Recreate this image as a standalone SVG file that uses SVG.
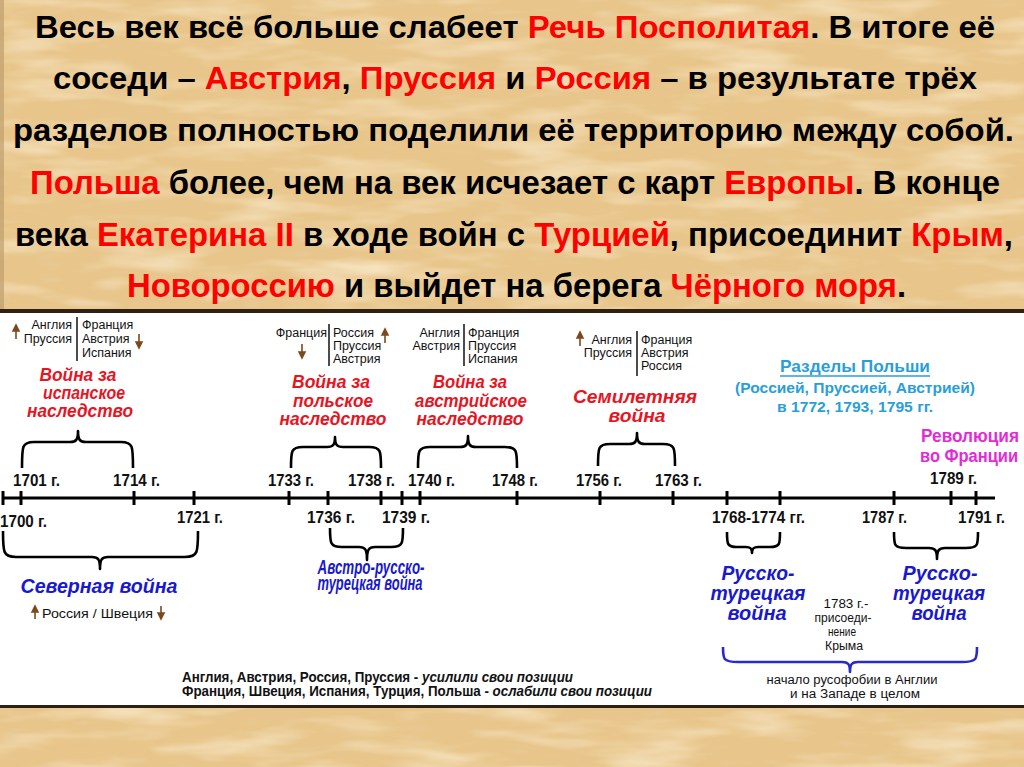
<svg xmlns="http://www.w3.org/2000/svg" width="1024" height="767" viewBox="0 0 1024 767">
<defs>
<filter id="paper" x="0" y="0" width="100%" height="100%">
<feTurbulence type="fractalNoise" baseFrequency="0.01 0.05" numOctaves="3" seed="7"/>
<feColorMatrix type="matrix" values="0 0 0 0 0.98  0 0 0 0 0.88  0 0 0 0 0.70  1.5 0 0 0 -0.7"/>
</filter>
<filter id="paper2" x="0" y="0" width="100%" height="100%">
<feTurbulence type="fractalNoise" baseFrequency="0.03 0.12" numOctaves="2" seed="11"/>
<feColorMatrix type="matrix" values="0 0 0 0 0.80  0 0 0 0 0.64  0 0 0 0 0.42  1.2 0 0 0 -0.75"/>
</filter>
<style>
.hb{font-family:"Liberation Sans",Arial,sans-serif;font-weight:bold;font-size:31px;fill:#000}
.hn{font-family:"Liberation Sans Narrow","Liberation Sans",Arial,sans-serif;font-weight:bold;font-size:33px;fill:#000}
.r{fill:#f00}
.cn{font-family:"Liberation Sans",Arial,sans-serif;font-size:12.5px;fill:#111}
.yr{font-family:"Liberation Sans Narrow","Liberation Sans",Arial,sans-serif;font-weight:bold;font-size:17px;fill:#111}
.war{font-family:"Liberation Sans",Arial,sans-serif;font-weight:bold;font-style:italic;font-size:18px;fill:#e8141f;text-anchor:middle}
.bw{font-family:"Liberation Sans",Arial,sans-serif;font-weight:bold;font-style:italic;font-size:20px;fill:#1818d0;text-anchor:middle}
.sm{font-family:"Liberation Sans Narrow","Liberation Sans",Arial,sans-serif;font-size:12.5px;fill:#111;text-anchor:middle}
.bt{font-family:"Liberation Sans Narrow","Liberation Sans",Arial,sans-serif;font-weight:bold;font-size:14px;fill:#111}
.cy{font-family:"Liberation Sans",Arial,sans-serif;font-weight:bold;fill:#2a9ed8;text-anchor:middle}
.mg{font-family:"Liberation Sans",Arial,sans-serif;font-weight:bold;font-size:18px;fill:#e42ad6}
.brace{fill:none;stroke:#000;stroke-width:2.6;stroke-linejoin:round}
.bbrace{fill:none;stroke:#2a2ac8;stroke-width:2.6;stroke-linejoin:round}
.tick{stroke:#000;stroke-width:3}
.sep{stroke:#111;stroke-width:1.5}
.arr{stroke:#7a4a1e;stroke-width:1.6;fill:#7a4a1e}
</style>
</defs>

<!-- background -->
<rect x="0" y="0" width="1024" height="767" fill="#e8c68b"/>
<rect x="0" y="0" width="1024" height="767" filter="url(#paper)"/>
<rect x="0" y="0" width="1024" height="767" filter="url(#paper2)"/>
<rect x="0" y="0" width="4" height="310" fill="#b89868" opacity="0.6"/>
<rect x="0" y="309" width="1024" height="4" fill="#2e2012"/>
<rect x="0" y="313" width="1024" height="392" fill="#fff"/>
<rect x="0" y="705" width="1024" height="3" fill="#2e2012"/>

<!-- header text -->
<g id="header">
<text class="hb" x="35" y="38" textLength="960" lengthAdjust="spacingAndGlyphs">Весь век всё больше слабеет <tspan class="r">Речь Посполитая</tspan>. В итоге её</text>
<text class="hb" x="53" y="89" textLength="924" lengthAdjust="spacingAndGlyphs">соседи – <tspan class="r">Австрия</tspan>, <tspan class="r">Пруссия</tspan> и <tspan class="r">Россия</tspan> – в результате трёх</text>
<text class="hb" x="13" y="141" textLength="1001" lengthAdjust="spacingAndGlyphs">разделов полностью поделили её территорию между собой.</text>
<text class="hn" x="30" y="194" textLength="970" lengthAdjust="spacingAndGlyphs"><tspan class="r">Польша</tspan> более, чем на век исчезает с карт <tspan class="r">Европы</tspan>. В конце</text>
<text class="hn" x="15" y="246" textLength="998" lengthAdjust="spacingAndGlyphs">века <tspan class="r">Екатерина II</tspan> в ходе войн с <tspan class="r">Турцией</tspan>, присоединит <tspan class="r">Крым</tspan>,</text>
<text class="hn" x="127" y="297" textLength="779" lengthAdjust="spacingAndGlyphs"><tspan class="r">Новороссию</tspan> и выйдет на берега <tspan class="r">Чёрного моря</tspan>.</text>
</g>

<!-- connectors: axis, ticks, braces -->
<g id="connectors">
<line x1="2" y1="498" x2="995" y2="498" stroke="#000" stroke-width="3"/>
<g class="tick">
<line x1="3" y1="491" x2="3" y2="505"/>
<line x1="21" y1="491" x2="21" y2="505"/>
<line x1="134" y1="491" x2="134" y2="505"/>
<line x1="194" y1="491" x2="194" y2="505"/>
<line x1="289" y1="491" x2="289" y2="505"/>
<line x1="328" y1="491" x2="328" y2="505"/>
<line x1="381" y1="491" x2="381" y2="505"/>
<line x1="402" y1="491" x2="402" y2="505"/>
<line x1="420" y1="491" x2="420" y2="505"/>
<line x1="517" y1="491" x2="517" y2="505"/>
<line x1="600" y1="491" x2="600" y2="505"/>
<line x1="673" y1="491" x2="673" y2="505"/>
<line x1="727" y1="491" x2="727" y2="505"/>
<line x1="780" y1="491" x2="780" y2="505"/>
<line x1="894" y1="491" x2="894" y2="505"/>
<line x1="951" y1="491" x2="951" y2="505"/>
<line x1="976" y1="491" x2="976" y2="505"/>
</g>
<!-- braces above axis (apex up) -->
<path class="brace" d="M22,468 C22,446 22,442 34,442 L70,442 C76,442 78,440 78,431 C78,440 80,442 86,442 L121,442 C133,442 133,446 133,468"/>
<path class="brace" d="M291,468 C291,451 291,447 303,447 L327,447 C333,447 335,445 335,437 C335,445 337,447 343,447 L369,447 C381,447 381,451 381,468"/>
<path class="brace" d="M418,468 C418,451 418,447 430,447 L460,447 C466,447 468,445 468,436 C468,445 470,447 476,447 L505,447 C517,447 517,451 517,468"/>
<path class="brace" d="M598,466 C598,448 598,444 610,444 L629,444 C635,444 637,442 637,433 C637,442 639,444 645,444 L663,444 C675,444 675,448 675,466"/>
<!-- braces below axis (apex down) -->
<path class="brace" d="M3,531 C3,552 3,557 16,557 L92,557 C98,557 100,559 100,569 C100,559 102,557 108,557 L185,557 C198,557 198,552 198,531"/>
<path class="brace" d="M330,528 C330,543 330,547 342,547 L359,547 C365,547 367,549 367,560 C367,549 369,547 375,547 L391,547 C403,547 403,543 403,528"/>
<path class="brace" d="M727,532 C727,544 727,547 737,547 L746,547 C750,547 752,548 752,553 C752,548 754,547 758,547 L770,547 C780,547 780,544 780,532"/>
<path class="brace" d="M894,532 C894,545 894,548 906,548 L929,548 C935,548 937,550 937,559 C937,550 939,548 945,548 L966,548 C978,548 978,545 978,532"/>
<path class="bbrace" d="M723,647 C723,659 723,662 738,662 L842,662 C848,662 850,664 850,672 C850,664 852,662 858,662 L962,662 C977,662 977,659 977,647"/>
</g>

<!-- year labels -->
<g id="years">
<text class="yr" x="13" y="486" textLength="47" lengthAdjust="spacingAndGlyphs">1701 г.</text>
<text class="yr" x="113" y="486" textLength="47" lengthAdjust="spacingAndGlyphs">1714 г.</text>
<text class="yr" x="268" y="486" textLength="46" lengthAdjust="spacingAndGlyphs">1733 г.</text>
<text class="yr" x="348" y="486" textLength="47" lengthAdjust="spacingAndGlyphs">1738 г.</text>
<text class="yr" x="408" y="486" textLength="47" lengthAdjust="spacingAndGlyphs">1740 г.</text>
<text class="yr" x="492" y="486" textLength="46" lengthAdjust="spacingAndGlyphs">1748 г.</text>
<text class="yr" x="576" y="486" textLength="46" lengthAdjust="spacingAndGlyphs">1756 г.</text>
<text class="yr" x="655" y="486" textLength="47" lengthAdjust="spacingAndGlyphs">1763 г.</text>
<text class="yr" x="930" y="484" textLength="47" lengthAdjust="spacingAndGlyphs">1789 г.</text>
<text class="yr" x="0" y="527" textLength="47" lengthAdjust="spacingAndGlyphs">1700 г.</text>
<text class="yr" x="177" y="523" textLength="46" lengthAdjust="spacingAndGlyphs">1721 г.</text>
<text class="yr" x="307" y="523" textLength="48" lengthAdjust="spacingAndGlyphs">1736 г.</text>
<text class="yr" x="382" y="523" textLength="48" lengthAdjust="spacingAndGlyphs">1739 г.</text>
<text class="yr" x="712" y="523" textLength="93" lengthAdjust="spacingAndGlyphs">1768-1774 гг.</text>
<text class="yr" x="862" y="523" textLength="45" lengthAdjust="spacingAndGlyphs">1787 г.</text>
<text class="yr" x="958" y="523" textLength="47" lengthAdjust="spacingAndGlyphs">1791 г.</text>
</g>

<!-- Spanish succession -->
<g id="spanish-war">
<path class="arr" d="M16,339 L16,330"/><path class="arr" d="M13,331 L16,325 L19,331 Z"/>
<text class="cn" x="72" y="329" text-anchor="end">Англия</text>
<text class="cn" x="72" y="343" text-anchor="end">Пруссия</text>
<line class="sep" x1="77" y1="317" x2="77" y2="361"/>
<text class="cn" x="82" y="329">Франция</text>
<text class="cn" x="82" y="343">Австрия</text>
<text class="cn" x="82" y="357">Испания</text>
<path class="arr" d="M139,334 L139,343"/><path class="arr" d="M136,342 L139,348 L142,342 Z"/>
<text class="war" x="78" y="381" textLength="77" lengthAdjust="spacingAndGlyphs">Война за</text>
<text class="war" x="84" y="399" textLength="82" lengthAdjust="spacingAndGlyphs">испанское</text>
<text class="war" x="80" y="417" textLength="106" lengthAdjust="spacingAndGlyphs">наследство</text>
</g>

<!-- Polish succession -->
<g id="polish-war">
<text class="cn" x="327" y="337" text-anchor="end">Франция</text>
<path class="arr" d="M302,344 L302,353"/><path class="arr" d="M299,352 L302,358 L305,352 Z"/>
<line class="sep" x1="329" y1="324" x2="329" y2="366"/>
<text class="cn" x="333" y="337">Россия</text>
<text class="cn" x="333" y="350">Пруссия</text>
<text class="cn" x="333" y="363">Австрия</text>
<path class="arr" d="M385,343 L385,334"/><path class="arr" d="M382,335 L385,329 L388,335 Z"/>
<text class="war" x="331" y="388" textLength="78" lengthAdjust="spacingAndGlyphs">Война за</text>
<text class="war" x="333" y="407" textLength="80" lengthAdjust="spacingAndGlyphs">польское</text>
<text class="war" x="333" y="425" textLength="107" lengthAdjust="spacingAndGlyphs">наследство</text>
</g>

<!-- Austrian succession -->
<g id="austrian-war">
<text class="cn" x="460" y="337" text-anchor="end">Англия</text>
<text class="cn" x="460" y="350" text-anchor="end">Австрия</text>
<line class="sep" x1="464" y1="324" x2="464" y2="366"/>
<text class="cn" x="468" y="337">Франция</text>
<text class="cn" x="468" y="350">Пруссия</text>
<text class="cn" x="468" y="363">Испания</text>
<text class="war" x="470" y="388" textLength="74" lengthAdjust="spacingAndGlyphs">Война за</text>
<text class="war" x="471" y="407" textLength="112" lengthAdjust="spacingAndGlyphs">австрийское</text>
<text class="war" x="470" y="425" textLength="107" lengthAdjust="spacingAndGlyphs">наследство</text>
</g>

<!-- Seven Years War -->
<g id="seven-years-war">
<path class="arr" d="M580,346 L580,337"/><path class="arr" d="M577,338 L580,332 L583,338 Z"/>
<text class="cn" x="632" y="344" text-anchor="end">Англия</text>
<text class="cn" x="632" y="357" text-anchor="end">Пруссия</text>
<line class="sep" x1="637" y1="331" x2="637" y2="376"/>
<text class="cn" x="641" y="344">Франция</text>
<text class="cn" x="641" y="357">Австрия</text>
<text class="cn" x="641" y="370">Россия</text>
<text class="war" x="635" y="403" textLength="124" lengthAdjust="spacingAndGlyphs">Семилетняя</text>
<text class="war" x="637" y="422" textLength="57" lengthAdjust="spacingAndGlyphs">война</text>
</g>

<!-- Partitions of Poland -->
<g id="partitions">
<text class="cy" x="855" y="372" font-size="17" textLength="150" lengthAdjust="spacingAndGlyphs">Разделы Польши</text>
<line x1="780" y1="376" x2="930" y2="376" stroke="#2a9ed8" stroke-width="1.5"/>
<text class="cy" x="855" y="393" font-size="14.5" textLength="240" lengthAdjust="spacingAndGlyphs">(Россией, Пруссией, Австрией)</text>
<text class="cy" x="855" y="412" font-size="14.5" textLength="156" lengthAdjust="spacingAndGlyphs">в 1772, 1793, 1795 гг.</text>
</g>

<!-- French Revolution -->
<g id="revolution">
<text class="mg" x="921" y="442" textLength="98" lengthAdjust="spacingAndGlyphs">Революция</text>
<text class="mg" x="920" y="462" textLength="98" lengthAdjust="spacingAndGlyphs">во Франции</text>
</g>

<!-- Great Northern War -->
<g id="northern-war">
<text class="bw" x="99" y="593" textLength="157" lengthAdjust="spacingAndGlyphs">Северная война</text>
<path class="arr" d="M35,619 L35,611"/><path class="arr" d="M32,612 L35,606 L38,612 Z"/>
<text class="cn" x="42" y="618" font-size="13" textLength="111" lengthAdjust="spacingAndGlyphs">Россия / Швеция</text>
<path class="arr" d="M161,606 L161,614"/><path class="arr" d="M158,613 L161,619 L164,613 Z"/>
</g>

<!-- Austro-Russian-Turkish War -->
<g id="austro-russo-turkish-war">
<text class="bw" x="371" y="574" font-size="12" fill="#2a2ad0" textLength="107" lengthAdjust="spacingAndGlyphs">Австро-русско-</text>
<text class="bw" x="370" y="590" font-size="12" fill="#2a2ad0" textLength="105" lengthAdjust="spacingAndGlyphs">турецкая война</text>
</g>

<!-- Russo-Turkish War 1768-1774 -->
<g id="russo-turkish-war-1">
<text class="bw" x="758" y="580" textLength="73" lengthAdjust="spacingAndGlyphs">Русско-</text>
<text class="bw" x="758" y="600" textLength="95" lengthAdjust="spacingAndGlyphs">турецкая</text>
<text class="bw" x="757" y="620" textLength="59" lengthAdjust="spacingAndGlyphs">война</text>
</g>

<!-- Crimea 1783 -->
<g id="crimea">
<text class="sm" x="846" y="608" textLength="45" lengthAdjust="spacingAndGlyphs">1783 г.-</text>
<text class="sm" x="843" y="622" fill="#2a2ab0" textLength="57" lengthAdjust="spacingAndGlyphs">присоеди-</text>
<text class="sm" x="842" y="636" fill="#2a2ab0" textLength="28" lengthAdjust="spacingAndGlyphs">нение</text>
<text class="sm" x="844" y="650" fill="#2a2ab0" textLength="38" lengthAdjust="spacingAndGlyphs">Крыма</text>
</g>

<!-- Russo-Turkish War 1787-1791 -->
<g id="russo-turkish-war-2">
<text class="bw" x="940" y="580" textLength="75" lengthAdjust="spacingAndGlyphs">Русско-</text>
<text class="bw" x="939" y="600" textLength="92" lengthAdjust="spacingAndGlyphs">турецкая</text>
<text class="bw" x="939" y="620" textLength="55" lengthAdjust="spacingAndGlyphs">война</text>
</g>

<!-- Russophobia -->
<g id="russophobia">
<text class="sm" x="852" y="684" font-size="12" textLength="171" lengthAdjust="spacingAndGlyphs">начало русофобии в Англии</text>
<text class="sm" x="855" y="698" font-size="12" textLength="130" lengthAdjust="spacingAndGlyphs">и на Западе в целом</text>
</g>

<!-- Summary -->
<g id="summary">
<text class="bt" x="182" y="682" textLength="391" lengthAdjust="spacingAndGlyphs">Англия, Австрия, Россия, Пруссия - <tspan font-style="italic">усилили свои позиции</tspan></text>
<text class="bt" x="182" y="696" textLength="470" lengthAdjust="spacingAndGlyphs">Франция, Швеция, Испания, Турция, Польша - <tspan font-style="italic">ослабили свои позиции</tspan></text>
</g>
</svg>
